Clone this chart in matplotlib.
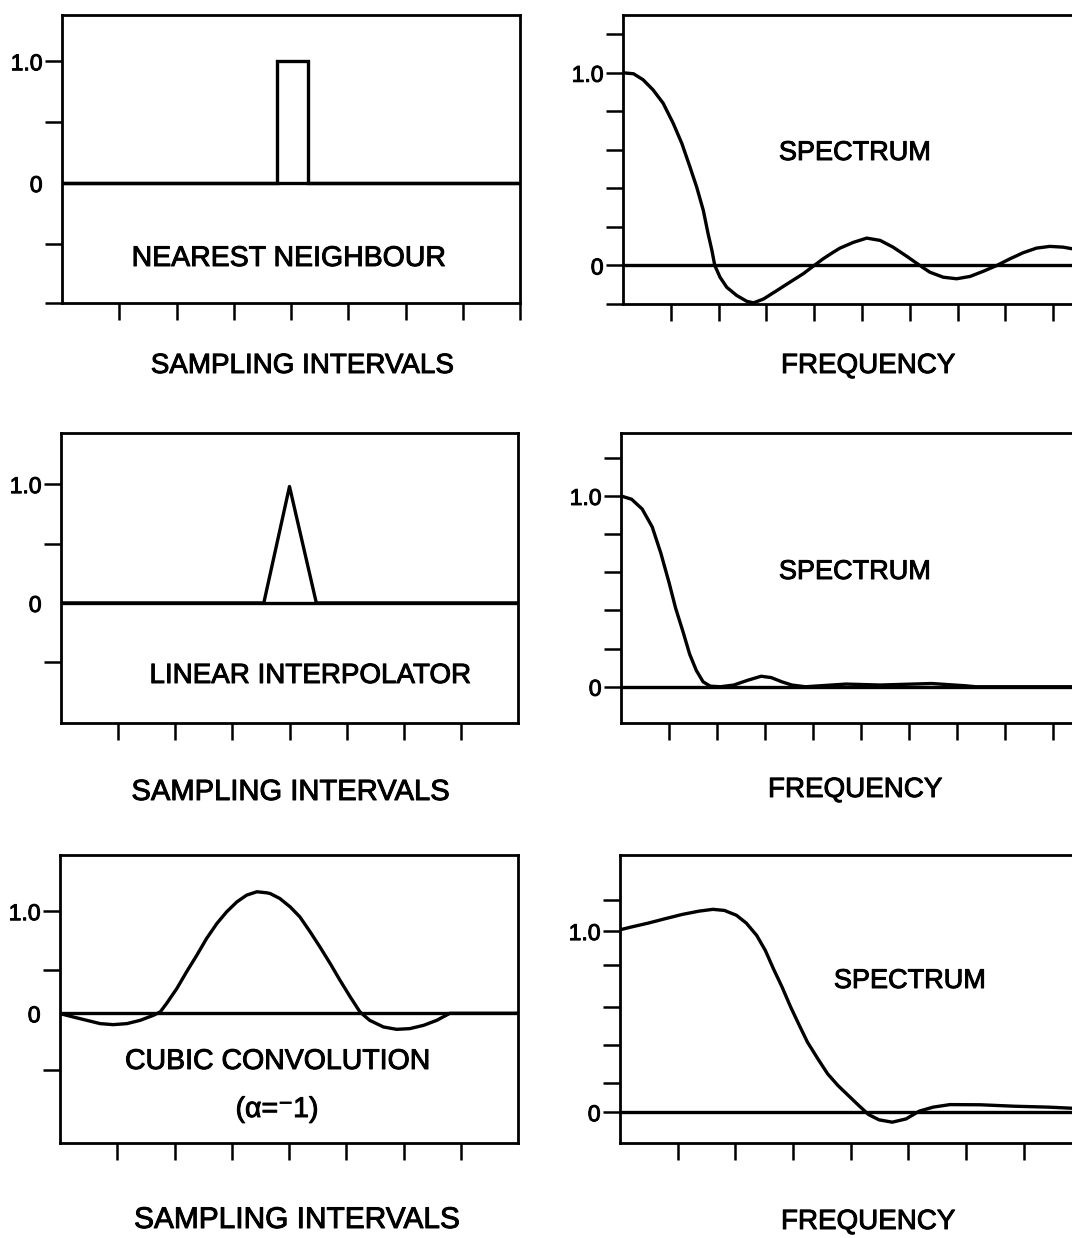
import matplotlib
matplotlib.use("Agg")
import matplotlib.pyplot as plt
import matplotlib.patheffects as pe

W, H, DPI = 1072, 1238, 100
FONT = ["Liberation Sans", "DejaVu Sans"]
plt.rcParams["font.family"] = FONT

# ---- spatial kernels (x in sampling-interval ticks) ----
nn_x = [0.0, 3.76, 3.76, 4.30, 4.30, 8.0]
nn_y = [0.0, 0.0, 1.0, 1.0, 0.0, 0.0]

lin_x = [0.0, 3.55, 4.0, 4.47, 8.0]
lin_y = [0.0, 0.0, 0.98, 0.0, 0.0]

cub_x = [0.0, 0.23, 0.47, 0.70, 0.93, 1.17, 1.40, 1.63, 1.75, 1.86, 2.04, 2.21,
         2.39, 2.56, 2.74, 2.91, 3.09, 3.26, 3.44, 3.61, 3.67, 3.84, 4.02,
         4.19, 4.37, 4.54, 4.72, 4.89, 5.07, 5.24, 5.41, 5.65, 5.88, 6.11,
         6.35, 6.58, 6.81, 8.0]
cub_y = [-0.003, -0.036, -0.069, -0.101, -0.111, -0.101, -0.069, -0.02, 0.013,
         0.095, 0.242, 0.405, 0.569, 0.732, 0.879, 0.993, 1.091, 1.157, 1.19,
         1.18, 1.173, 1.124, 1.042, 0.944, 0.797, 0.65, 0.487, 0.324, 0.16,
         0.013, -0.069, -0.134, -0.157, -0.15, -0.118, -0.069, 0.0, 0.0]

# ---- spectra (x in frequency ticks) ----
nn_f = [0.0, 0.22, 0.42, 0.63, 0.84, 1.05, 1.23, 1.40, 1.54, 1.68, 1.78, 1.86,
        1.92, 2.03, 2.17, 2.38, 2.59, 2.73, 2.94, 3.22, 3.49, 3.77, 4.0, 4.19,
        4.40, 4.54, 4.82, 5.10, 5.38, 5.65, 5.94, 6.21, 6.42, 6.70, 6.98,
        7.26, 7.54, 7.82, 8.10, 8.37, 8.65, 8.93, 9.21, 9.39, 10.0]
nn_s = [1.0, 0.995, 0.964, 0.911, 0.842, 0.738, 0.634, 0.512, 0.408, 0.286,
        0.165, 0.078, 0.0, -0.061, -0.113, -0.156, -0.186, -0.194, -0.174,
        -0.13, -0.087, -0.043, 0.0, 0.035, 0.069, 0.09, 0.12, 0.142, 0.13,
        0.095, 0.047, 0.0, -0.035, -0.061, -0.069, -0.057, -0.03, 0.0, 0.035,
        0.066, 0.09, 0.099, 0.095, 0.087, 0.06]

lin_f = [0.0, 0.22, 0.44, 0.65, 0.83, 1.0, 1.14, 1.29, 1.43, 1.57, 1.71, 1.86,
         2.07, 2.35, 2.64, 2.92, 3.13, 3.35, 3.56, 3.84, 4.69, 5.40, 6.47,
         7.18, 7.39, 10.0]
lin_s = [1.0, 0.983, 0.932, 0.838, 0.70, 0.547, 0.41, 0.29, 0.171, 0.085,
         0.026, 0.003, 0.0, 0.009, 0.034, 0.055, 0.048, 0.026, 0.009, 0.0,
         0.014, 0.009, 0.017, 0.005, 0.0, 0.0]

cub_f = [0.0, 0.19, 0.49, 0.78, 1.08, 1.37, 1.61, 1.81, 2.02, 2.19, 2.37, 2.52,
         2.66, 2.81, 2.96, 3.11, 3.25, 3.43, 3.60, 3.78, 3.96, 4.14, 4.31,
         4.49, 4.72, 4.96, 5.19, 5.43, 5.72, 6.25, 6.84, 7.43, 7.83, 8.34]
cub_s = [1.007, 1.022, 1.044, 1.068, 1.092, 1.11, 1.12, 1.114, 1.087, 1.044,
         0.976, 0.893, 0.792, 0.691, 0.58, 0.479, 0.387, 0.295, 0.212, 0.147,
         0.092, 0.037, -0.013, -0.042, -0.055, -0.037, 0.006, 0.028, 0.042,
         0.041, 0.033, 0.028, 0.022, 0.018]

LW = 2.4
SPINE_LW = 2.0
BOLDEN = [pe.withStroke(linewidth=0.7, foreground="k")]

fig = plt.figure(figsize=(W / DPI, H / DPI), dpi=DPI)


def panel(x0, y0, x1, y1):
    ax = fig.add_axes([x0 / W, 1 - y1 / H, (x1 - x0) / W, (y1 - y0) / H])
    for side in ("top", "right", "bottom", "left"):
        ax.spines[side].set_linewidth(SPINE_LW)
    ax.tick_params(direction="out", length=12, width=1.8, labelsize=16.5,
                   top=False, right=False, pad=2)
    return ax


def style_y(ax, ticks, labels, hide_zero_tick=False):
    ax.set_yticks(ticks)
    ax.set_yticklabels(labels)
    for t in ax.get_yticklabels():
        t.set_path_effects(BOLDEN)
    if hide_zero_tick:
        for t, v in zip(ax.yaxis.get_major_ticks(), ticks):
            if v == 0:
                t.tick1line.set_visible(False)


def ylabels(ticks):
    return ["1.0" if v == 1.0 else ("0" if v == 0 else "") for v in ticks]


def curve(ax, x, y):
    ax.plot(x, y, color="k", lw=LW, solid_joinstyle="round",
            solid_capstyle="round")


def label(x, y, s, size=20):
    fig.text(x / W, 1 - y / H, s, ha="center", va="center", fontsize=size,
             family=FONT, path_effects=BOLDEN)


# ---- row 1 ----
ax = panel(62, 15, 520, 303)
ax.set_xlim(0, 8)
ax.set_ylim(-0.985, 1.38)
ax.axhline(0, color="k", lw=LW)
ax.plot(nn_x, nn_y, color="k", lw=LW, solid_joinstyle="miter")
ax.set_xticks(range(1, 9))
ax.set_xticklabels([])
yt = [1.0, 0.5, 0.0, -0.5, -0.985]
style_y(ax, yt, ylabels(yt), hide_zero_tick=True)
label(289, 259, "NEAREST NEIGHBOUR", 20.5)
label(302, 366, "SAMPLING INTERVALS", 20)

ax = panel(623, 15, 1101, 304)
ax.set_xlim(0, 10)
ax.set_ylim(-0.2, 1.30)
ax.axhline(0, color="k", lw=LW)
curve(ax, nn_f, nn_s)
ax.set_xticks(range(1, 10))
ax.set_xticklabels([])
yt = [1.2, 1.0, 0.8, 0.6, 0.4, 0.2, 0.0, -0.2]
style_y(ax, yt, ylabels(yt))
label(855, 153, "SPECTRUM", 19.5)
label(868, 366, "FREQUENCY", 20)

# ---- row 2 ----
ax = panel(61, 433, 518, 723)
ax.set_xlim(0, 8)
ax.set_ylim(-1.01, 1.43)
ax.axhline(0, color="k", lw=LW)
curve(ax, lin_x, lin_y)
ax.set_xticks(range(1, 8))
ax.set_xticklabels([])
yt = [1.0, 0.5, 0.0, -0.5]
style_y(ax, yt, ylabels(yt), hide_zero_tick=True)
label(310, 676, "LINEAR INTERPOLATOR", 20)
label(290, 792, "SAMPLING INTERVALS", 21)

ax = panel(621, 433, 1101, 723)
ax.set_xlim(0, 10)
ax.set_ylim(-0.19, 1.33)
ax.axhline(0, color="k", lw=LW)
curve(ax, lin_f, lin_s)
ax.set_xticks(range(1, 10))
ax.set_xticklabels([])
yt = [1.2, 1.0, 0.8, 0.6, 0.4, 0.2, 0.0]
style_y(ax, yt, ylabels(yt))
label(855, 572, "SPECTRUM", 19.5)
label(855, 790, "FREQUENCY", 20)

# ---- row 3 ----
ax = panel(60, 855, 518, 1143)
ax.set_xlim(0, 8)
ax.set_ylim(-1.27, 1.55)
ax.axhline(0, color="k", lw=LW)
curve(ax, cub_x, cub_y)
ax.set_xticks(range(1, 8))
ax.set_xticklabels([])
yt = [1.0, 0.42, 0.0, -0.56]
style_y(ax, yt, ylabels(yt), hide_zero_tick=True)
label(278, 1062, "CUBIC CONVOLUTION", 20.5)
label(277, 1110, "(α=⁻1)", 20.5)
label(297, 1220, "SAMPLING INTERVALS", 21.5)

ax = panel(620, 855, 1101, 1143)
ax.set_xlim(0, 8.34)
ax.set_ylim(-0.17, 1.42)
ax.axhline(0, color="k", lw=LW)
curve(ax, cub_f, cub_s)
ax.set_xticks(range(1, 8))
ax.set_xticklabels([])
yt = [1.17, 1.0, 0.81, 0.58, 0.37, 0.16, 0.0]
style_y(ax, yt, ylabels(yt))
label(910, 981, "SPECTRUM", 19.5)
label(868, 1222, "FREQUENCY", 20)

fig.savefig("out.png", dpi=DPI)
